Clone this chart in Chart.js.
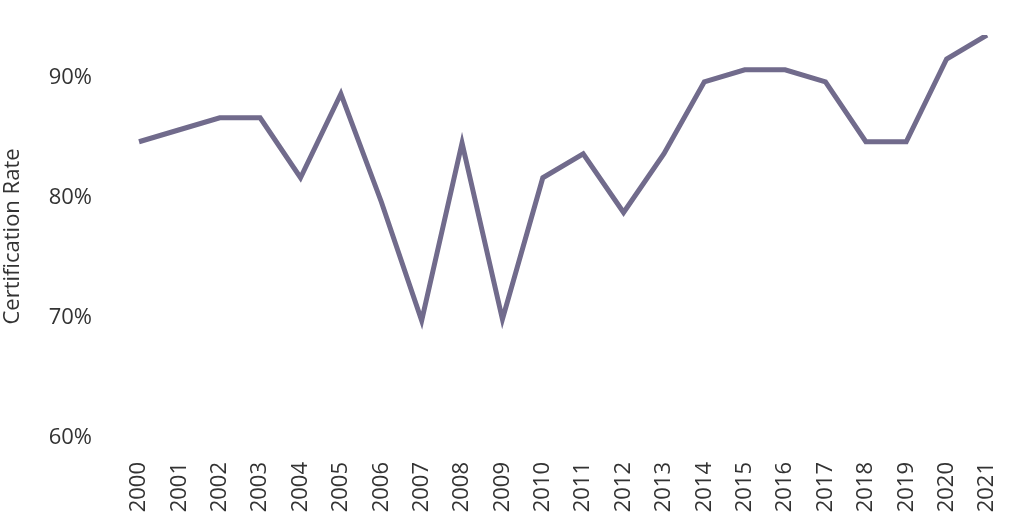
<!DOCTYPE html>
<html>
<head>
<meta charset="utf-8">
<script src="https://cdn.jsdelivr.net/npm/chart.js@4/dist/chart.umd.min.js"></script>
<style>
  html, body { margin: 0; padding: 0; background: #fff; overflow: hidden; }
  #box { width: 1024px; height: 532px; }
</style>
</head>
<body>
<div id="box"><canvas id="c"></canvas></div>
<script>
// years on the x axis
var years = ['2000','2001','2002','2003','2004','2005','2006','2007','2008','2009','2010',
             '2011','2012','2013','2014','2015','2016','2017','2018','2019','2020','2021'];
// certification rate, percent
var rates = [84.7, 85.7, 86.7, 86.7, 81.7, 88.7, 79.7, 69.8, 84.6, 69.9, 81.7,
             83.7, 78.8, 83.7, 89.7, 90.7, 90.7, 89.7, 84.7, 84.7, 91.6, 93.6];
var yTicks = [60, 70, 80, 90];

var ink = '#333333';
var font = { family: '"Open Sans", sans-serif', size: 22 };

var ctx = document.getElementById('c');
var myChart = new Chart(ctx,
{
  type: 'line',
  data:
  {
    labels: years,
    datasets:
    [{
      label: 'Certification Rate',
      data: rates,
      borderColor: '#716b8c',
      borderWidth: 5,
      pointRadius: 0,
      tension: 0,
      fill: false
    }]
  },
  options:
  {
    responsive: true,
    maintainAspectRatio: false,
    animation: false,
    layout: { padding: { top: 35, right: 37, bottom: 0, left: 0 } },
    plugins: { legend: { display: false }, tooltip: { enabled: false } },
    scales:
    {
      x:
      {
        offset: false,
        grid: { display: false, drawTicks: false },
        border: { display: false },
        ticks: { color: ink, font: font, minRotation: 90, maxRotation: 90, padding: 24, autoSkip: false },
        afterFit: function (s) { s.height = 94; s.paddingLeft = 0; s.paddingRight = 0; }
      },
      y:
      {
        min: 60,
        max: 93.6,
        grid: { display: false, drawTicks: false },
        border: { display: false },
        ticks: { color: ink, font: font, padding: 47,
                 callback: function (v) { return v + '%'; } },
        afterBuildTicks: function (s) {
          s.ticks = yTicks.map(function (v) { return { value: v }; });
        },
        title: { display: true, text: 'Certification Rate', color: ink, font: font, padding: 0 },
        afterFit: function (s) { s.width = 139; s.paddingTop = 0; s.paddingBottom = 0; }
      }
    }
  }
});
</script>
</body>
</html>
